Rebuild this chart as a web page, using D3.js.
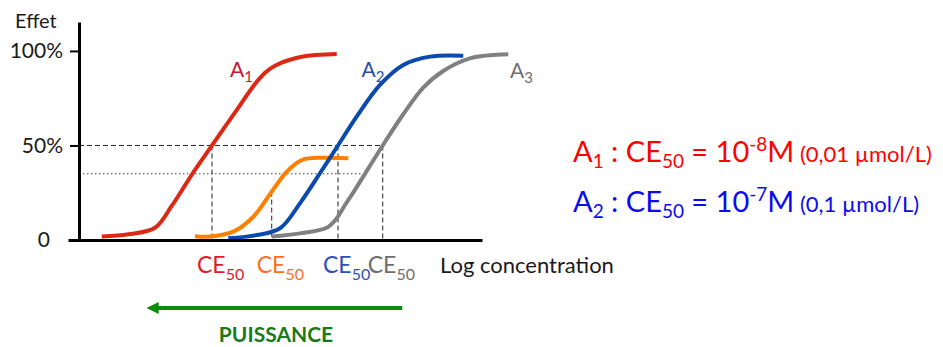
<!DOCTYPE html>
<html>
<head>
<meta charset="utf-8">
<script src="https://cdn.jsdelivr.net/npm/d3@7"></script>
<style>
  body { margin: 0; background: #fff; }
  svg { display: block; font-family: Lato, "Open Sans", sans-serif; }
  text { white-space: pre; }
</style>
</head>
<body>
<script>
// log concentration (x) vs effect in % (y)
var curveA1 = [[-8.875,1.8],[-8.664,3.0],[-8.452,6.5],[-8.320,18.0],[-8.161,34.5],[-8.0,50],[-7.817,67.5],[-7.659,82.5],[-7.579,88.5],[-7.5,92.2],[-7.288,96.9],[-7.010,98.4]];
var curveOrange = [[-8.135,2.0],[-8.016,1.8],[-7.831,4.4],[-7.672,12.3],[-7.526,25.6],[-7.407,36.1],[-7.288,42.3],[-7.117,43.5],[-6.918,43.2]];
var curveA2 = [[-7.871,0.9],[-7.645,2.6],[-7.460,6.2],[-7.302,19.4],[-7.143,35.3],[-7.0,50],[-6.852,65.2],[-6.667,82],[-6.482,92.6],[-6.270,97],[-6.006,97.5]];
var curveA3 = [[-7.526,1.8],[-7.302,3.5],[-7.090,6.5],[-7.016,11],[-6.944,18.5],[-6.865,26.5],[-6.786,35],[-6.645,50],[-6.482,66.5],[-6.323,80.6],[-6.165,89.4],[-5.952,96.1],[-5.648,98.2]];

var ce50 = [
  {x: -8.0,   y: 50,   color: "#dc1c2c"},
  {x: -7.526, y: 25.6, color: "#ff6f1e"},
  {x: -7.0,   y: 50,   color: "#3050b8"},
  {x: -6.645, y: 50,   color: "#6e6e6e"}
];
var dottedLevel = 35, dottedEnd = -6.80;
var yTicks = [0, 50, 100];

var width = 943, height = 347;
var svg = d3.select("body").append("svg").attr("width", width).attr("height", height);

var x = d3.scaleLinear().domain([-9.143, -5.857]).range([68, 482]);
var y = d3.scaleLinear().domain([0, 115.3]).range([240, 22]);
var axisX = 79;

// reference lines
var ref = svg.append("g");
ref.append("line")
  .attr("x1", axisX).attr("x2", x(ce50[3].x))
  .attr("y1", y(50)).attr("y2", y(50))
  .attr("stroke", "#222").attr("stroke-width", 1).attr("stroke-dasharray", "5,3");
ref.append("line")
  .attr("x1", axisX).attr("x2", x(dottedEnd))
  .attr("y1", y(dottedLevel)).attr("y2", y(dottedLevel))
  .attr("stroke", "#444").attr("stroke-width", 1).attr("stroke-dasharray", "1.5,2.5");
ref.selectAll(".vl").data(ce50).enter().append("line")
  .attr("x1", function(d){ return x(d.x); }).attr("x2", function(d){ return x(d.x); })
  .attr("y1", function(d){ return y(d.y); }).attr("y2", y(0))
  .attr("stroke", "#222").attr("stroke-width", 1).attr("stroke-dasharray", "5,3");

// curves
var line = d3.line()
  .x(function(d){ return x(d[0]); })
  .y(function(d){ return y(d[1]); })
  .curve(d3.curveCatmullRom.alpha(0.5));

var curves = [
  {data: curveA1, color: "#dc2814"},
  {data: curveOrange, color: "#ff8000"},
  {data: curveA2, color: "#0a4aad"},
  {data: curveA3, color: "#808080"}
];
svg.selectAll(".curve").data(curves).enter().append("path")
  .attr("d", function(d){ return line(d.data); })
  .attr("fill", "none")
  .attr("stroke", function(d){ return d.color; })
  .attr("stroke-width", 4)
  .attr("stroke-linecap", "butt");

// axes
var gy = svg.append("g").attr("transform", "translate(" + axisX + ",0)")
  .call(d3.axisLeft(y).tickValues(yTicks)
    .tickFormat(function(d){ return d === 0 ? "0" : d + "%"; })
    .tickSize(9).tickPadding(7).tickSizeOuter(0));
gy.select(".domain").attr("stroke", "#000").attr("stroke-width", 3);
gy.selectAll(".tick line").attr("stroke", "#000").attr("stroke-width", 2);
gy.selectAll(".tick text")
  .attr("font-family", "Lato, sans-serif").attr("font-size", 21).attr("fill", "#1a1a1a")
  .attr("dx", function(d){ return d === 0 ? -13 : 0; });

var gx = svg.append("g").attr("transform", "translate(0," + y(0) + ")")
  .call(d3.axisBottom(x).tickValues([]).tickSizeOuter(0));
gx.select(".domain").attr("stroke", "#000").attr("stroke-width", 3);

svg.append("text").attr("x", 15).attr("y", 28)
  .attr("font-size", 20).attr("fill", "#1a1a1a").text("Effet");

// curve labels
var curveLabels = [
  {name: "A", sub: "1", x: -7.857, y: 86.4, color: "#cc1030"},
  {name: "A", sub: "2", x: -6.813, y: 86.4, color: "#2a4aa8"},
  {name: "A", sub: "3", x: -5.635, y: 85.6, color: "#707070"}
];
curveLabels.forEach(function(l){
  var t = svg.append("text").attr("x", x(l.x)).attr("y", y(l.y)).attr("fill", l.color);
  t.append("tspan").attr("font-size", 21).text(l.name);
  t.append("tspan").attr("font-size", 15).attr("dy", 5).text(l.sub);
});

// CE50 labels under the axis
ce50.forEach(function(d){
  var t = svg.append("text").attr("x", x(d.x) - 15).attr("y", 273).attr("fill", d.color);
  t.append("tspan").attr("font-size", 23).text("CE");
  t.append("tspan").attr("font-size", 16).attr("dy", 7).text("50");
});
svg.append("text").attr("x", 440).attr("y", 273)
  .attr("font-size", 22).attr("fill", "#1a1a1a").text("Log concentration");

// right-hand text
var rightLines = [
  {sub: "1", exp: "-8", note: " (0,01 µmol/L)", y: 162, color: "#ff0000"},
  {sub: "2", exp: "-7", note: " (0,1 µmol/L)", y: 212, color: "#0a0af0"}
];
rightLines.forEach(function(l){
  var t = svg.append("text").attr("x", 573).attr("y", l.y).attr("fill", l.color);
  t.append("tspan").attr("font-size", 29).text("A");
  t.append("tspan").attr("font-size", 19).attr("dy", 6).text(l.sub);
  t.append("tspan").attr("font-size", 29).attr("dy", -6).text(" : CE");
  t.append("tspan").attr("font-size", 19).attr("dy", 6).text("50");
  t.append("tspan").attr("font-size", 29).attr("dy", -6).text(" = 10");
  t.append("tspan").attr("font-size", 19).attr("dy", -11).text(l.exp);
  t.append("tspan").attr("font-size", 29).attr("dy", 11).text("M");
  t.append("tspan").attr("font-size", 22).text(l.note);
});

// potency arrow
var green = "#0b8a0b";
var arrowFrom = -6.49, arrowTo = -8.49, arrowY = 308;
svg.append("defs").append("marker")
  .attr("id", "head").attr("viewBox", "0 0 10 10").attr("refX", 2).attr("refY", 5)
  .attr("markerWidth", 3).attr("markerHeight", 3).attr("orient", "auto-start-reverse")
  .append("path").attr("d", "M0,0L10,5L0,10z").attr("fill", green);
svg.append("line")
  .attr("x1", x(arrowFrom)).attr("x2", x(arrowTo) + 6)
  .attr("y1", arrowY).attr("y2", arrowY)
  .attr("stroke", green).attr("stroke-width", 4)
  .attr("marker-end", "url(#head)");
svg.append("text").attr("x", 276).attr("y", 342).attr("text-anchor", "middle")
  .attr("font-size", 21).attr("font-weight", "bold").attr("fill", "#1a7a1a").text("PUISSANCE");
</script>
</body>
</html>
